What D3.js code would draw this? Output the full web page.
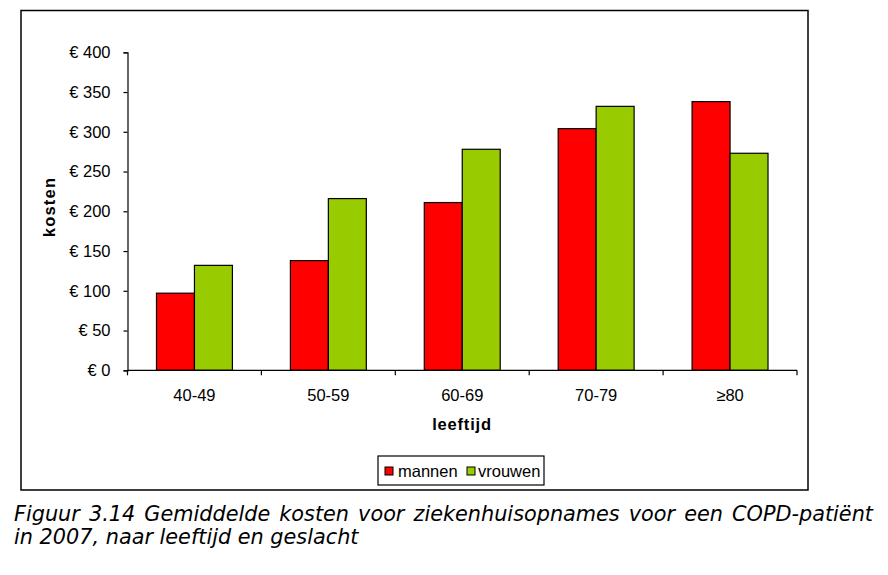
<!DOCTYPE html>
<html>
<head>
<meta charset="utf-8">
<script src="https://cdn.jsdelivr.net/npm/d3@7"></script>
<style>
  html, body { margin: 0; padding: 0; background: #fff; }
  svg { display: block; }
</style>
</head>
<body>
<svg id="chart" width="888" height="575"></svg>
<script>
// ---- data ----
const categories = ["40-49", "50-59", "60-69", "70-79", "\u226580"];
const seriesNames = ["mannen", "vrouwen"];
const mannen = [97, 138, 211, 304, 338];
const vrouwen = [132, 216, 278, 332, 273];
const yTicks = [0, 50, 100, 150, 200, 250, 300, 350, 400];
const yTitle = "kosten";
const xTitle = "leeftijd";
const captionLine1 = "Figuur 3.14 Gemiddelde kosten voor ziekenhuisopnames voor een COPD-patiënt";
const captionLine2 = "in 2007, naar leeftijd en geslacht";

const colors = { mannen: "#ff0000", vrouwen: "#99cc00" };
const values = { mannen, vrouwen };

const svg = d3.select("#chart");
const font = "'Liberation Sans', Arial, sans-serif";
const fs = 16.5;

// outer chart frame
svg.append("rect")
  .attr("x", 21).attr("y", 10.5).attr("width", 787).attr("height", 479.5)
  .attr("fill", "#fff").attr("stroke", "#000").attr("stroke-width", 1.5);

const plot = { left: 127.5, right: 797, top: 52.3, bottom: 370.3 };

const y = d3.scaleLinear().domain([0, 400]).range([plot.bottom, plot.top]);
const xCat = d3.scaleBand().domain(categories).range([plot.left, plot.right])
  .paddingInner(0.433).paddingOuter(0.2165);
const xEdge = d3.scaleBand().domain(categories).range([plot.left, plot.right]).padding(0);
const xSub = d3.scaleBand().domain(seriesNames).range([0, xCat.bandwidth()]);

// bars
const g = svg.append("g");
categories.forEach((c, i) => {
  seriesNames.forEach(s => {
    const v = values[s][i];
    g.append("rect")
      .attr("x", xCat(c) + xSub(s))
      .attr("y", y(v))
      .attr("width", xSub.bandwidth())
      .attr("height", y(0) - y(v))
      .attr("fill", colors[s])
      .attr("stroke", "#000")
      .attr("stroke-width", 1.2);
  });
});

// y axis
const yAxis = d3.axisLeft(y).tickValues(yTicks).tickSize(4).tickPadding(13)
  .tickFormat(d => "\u20ac " + d);
const ya = svg.append("g").attr("transform", `translate(${plot.left},0)`).call(yAxis);
ya.select(".domain").attr("stroke", "#000").attr("stroke-width", 1.2);
ya.selectAll(".tick line").attr("stroke", "#000").attr("stroke-width", 1.2);
ya.selectAll(".tick text").attr("font-family", font).attr("font-size", fs).attr("fill", "#000");

// x axis line with ticks at category edges
const xa = svg.append("g");
xa.append("line").attr("x1", plot.left).attr("x2", plot.right)
  .attr("y1", plot.bottom).attr("y2", plot.bottom)
  .attr("stroke", "#000").attr("stroke-width", 1.2);
const edges = categories.map(c => xEdge(c)).concat([plot.right]);
xa.selectAll("line.tk").data(edges).enter().append("line")
  .attr("class", "tk")
  .attr("x1", d => d).attr("x2", d => d)
  .attr("y1", plot.bottom).attr("y2", plot.bottom + 5)
  .attr("stroke", "#000").attr("stroke-width", 1.2);
xa.selectAll("text.cl").data(categories).enter().append("text")
  .attr("class", "cl")
  .attr("x", d => xEdge(d) + xEdge.bandwidth() / 2)
  .attr("y", 400.5)
  .attr("text-anchor", "middle")
  .attr("font-family", font).attr("font-size", fs).attr("fill", "#000")
  .text(d => d);

// axis titles
svg.append("text")
  .attr("x", 462).attr("y", 429.5)
  .attr("text-anchor", "middle")
  .attr("font-family", font).attr("font-size", fs).attr("font-weight", "bold")
  .attr("letter-spacing", 0.8)
  .text(xTitle);
svg.append("text")
  .attr("transform", "translate(55,207) rotate(-90)")
  .attr("text-anchor", "middle")
  .attr("font-family", font).attr("font-size", fs).attr("font-weight", "bold")
  .attr("letter-spacing", 1.2)
  .text(yTitle);

// legend
const lg = svg.append("g");
lg.append("rect").attr("x", 378).attr("y", 456).attr("width", 166).attr("height", 29)
  .attr("fill", "#fff").attr("stroke", "#000").attr("stroke-width", 1.2);
const legendPos = [{ sx: 385, tx: 398 }, { sx: 467, tx: 478 }];
seriesNames.forEach((s, i) => {
  lg.append("rect").attr("x", legendPos[i].sx).attr("y", 467).attr("width", 8).attr("height", 8)
    .attr("fill", colors[s]).attr("stroke", "#000").attr("stroke-width", 1);
  lg.append("text").attr("x", legendPos[i].tx).attr("y", 477)
    .attr("font-family", font).attr("font-size", fs).attr("fill", "#000")
    .text(s);
});

// caption (justified first line)
const capFont = "'DejaVu Sans', Verdana, sans-serif";
const capSize = 20.8;
const words = captionLine1.split(" ");
const cg = svg.append("g").attr("font-family", capFont).attr("font-size", capSize)
  .attr("font-style", "italic").attr("fill", "#000");
const wEls = words.map(w => cg.append("text").attr("y", 521).text(w));
const widths = wEls.map(e => e.node().getComputedTextLength());
const startX = 14, endX = 873;
const total = d3.sum(widths);
const gap = (endX - startX - total) / (words.length - 1);
let cx = startX;
wEls.forEach((e, i) => { e.attr("x", cx); cx += widths[i] + gap; });
cg.append("text").attr("x", startX).attr("y", 544).text(captionLine2);
</script>
</body>
</html>
